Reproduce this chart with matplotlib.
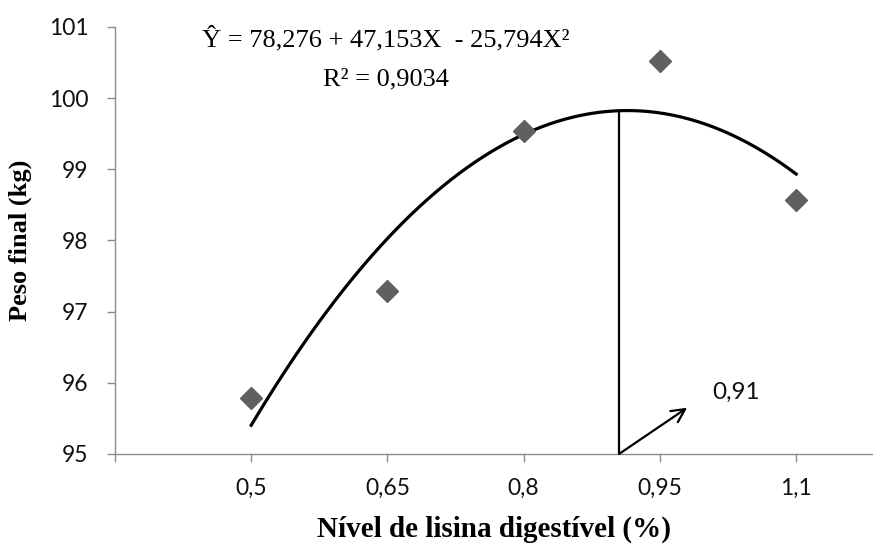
import numpy as np
import matplotlib
matplotlib.use("Agg")
import matplotlib.pyplot as plt

# dados
nivel = [0.5, 0.65, 0.8, 0.95, 1.1]
peso = [95.79, 97.29, 99.54, 100.52, 98.57]
tick_labels = ["0,5", "0,65", "0,8", "0,95", "1,1"]
y_ticks = [95, 96, 97, 98, 99, 100, 101]
coef = [78.276, 47.153, -25.794]  # b0, b1, b2
ponto_otimo = 0.905

fig = plt.figure(figsize=(8.73, 5.45), dpi=100)
ax = fig.add_axes([0.1317, 0.167, 1.0 - 0.1317, 0.9505 - 0.167])

ax.plot(nivel, peso, linestyle="none", marker="D", markersize=11.5,
        color="#606060", zorder=3)

x = np.linspace(nivel[0], nivel[-1], 200)
y = coef[0] + coef[1] * x + coef[2] * x ** 2
ax.plot(x, y, color="black", linewidth=2.3, zorder=2)

y_top = coef[0] + coef[1] * ponto_otimo + coef[2] * ponto_otimo ** 2
ax.plot([ponto_otimo, ponto_otimo], [95, y_top], color="black", linewidth=1.6)
ax.annotate("", xy=(0.98, 95.65), xytext=(ponto_otimo, 95.0),
            arrowprops=dict(arrowstyle="->", color="black", lw=1.6,
                            mutation_scale=24, shrinkA=0, shrinkB=0))
ax.text(1.008, 95.86, "0,91", fontsize=17.5, family="Lato",
        va="center", ha="left", color="#111111")

# equação (centrada)
ax.text(0.648, 100.72, "Ŷ = 78,276 + 47,153X  - 25,794X²",
        fontsize=19, family="Liberation Serif", va="baseline", ha="center")
ax.text(0.648, 100.18, "R² = 0,9034",
        fontsize=19, family="Liberation Serif", va="baseline", ha="center")

ax.set_xlim(0.35, 1.1846)
ax.set_ylim(95, 101)
ax.set_xticks([0.35] + nivel)
ax.set_xticklabels([""] + tick_labels)
ax.set_yticks(y_ticks)

for s in ["top", "right"]:
    ax.spines[s].set_visible(False)
for s in ["left", "bottom"]:
    ax.spines[s].set_color("#8c8c8c")
    ax.spines[s].set_linewidth(1.0)
    ax.spines[s].set_clip_on(False)

ax.tick_params(axis="both", direction="out", length=6, width=1.0,
               color="#8c8c8c", labelsize=16.5, labelcolor="#111111")
ax.tick_params(axis="x", pad=11)
ax.tick_params(axis="y", pad=13)
for lab in ax.get_xticklabels() + ax.get_yticklabels():
    lab.set_family("Lato")

ax.set_xlabel("Nível de lisina digestível (%)", family="Liberation Serif",
              fontweight="bold", fontsize=21, labelpad=12)
ax.set_ylabel("Peso final (kg)", family="Liberation Serif",
              fontweight="bold", fontsize=19, labelpad=12)

fig.savefig("out.png", dpi=100)
